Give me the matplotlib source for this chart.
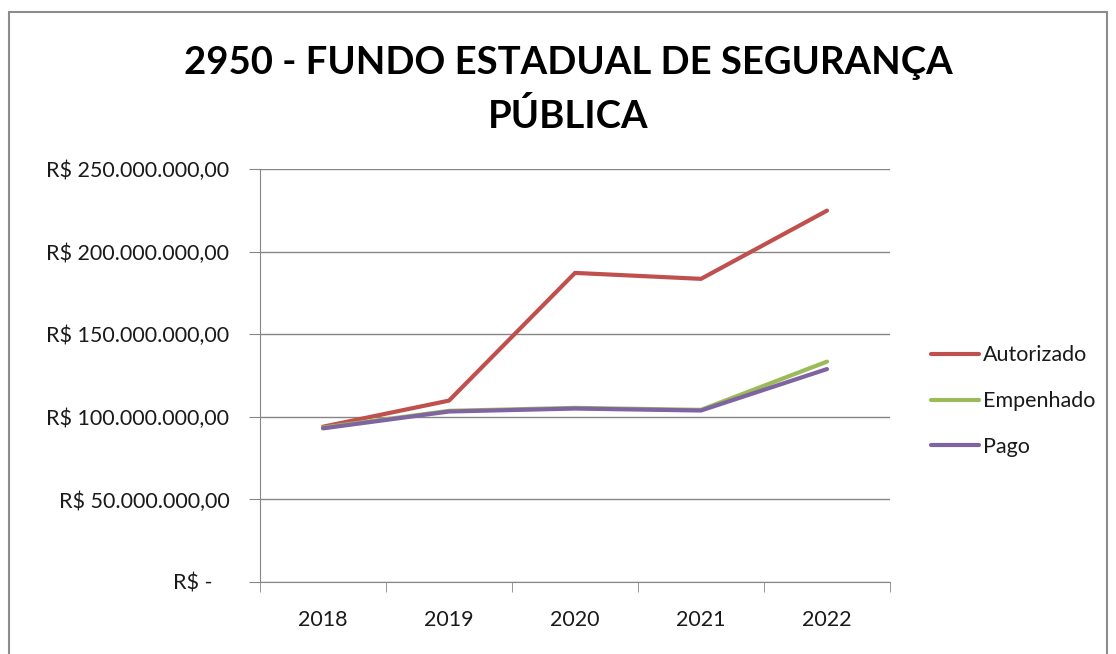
import matplotlib
matplotlib.use("Agg")
import matplotlib.pyplot as plt
from matplotlib.patches import Rectangle
from matplotlib.ticker import FuncFormatter, FixedLocator

# Dados (R$)
anos = ["2018", "2019", "2020", "2021", "2022"]
autorizado = [94.0e6, 109.8e6, 187.1e6, 183.5e6, 224.8e6]
empenhado = [93.5e6, 103.6e6, 105.4e6, 104.2e6, 133.4e6]
pago = [93.0e6, 103.2e6, 105.0e6, 103.8e6, 128.9e6]

titulo = "2950 - FUNDO ESTADUAL DE SEGURANÇA\nPÚBLICA"
fonte = ["Lato", "DejaVu Sans"]
cinza = "#868686"
tam = 15.5

fig = plt.figure(figsize=(11.16, 6.54), dpi=100)
fig.patches.append(Rectangle((9 / 1116, -0.05), 1098 / 1116, 1 - 12 / 654 + 0.05,
                             transform=fig.transFigure, fill=False,
                             edgecolor="#8c8c8c", linewidth=1.5))

ax = fig.add_axes([260 / 1116, 1 - 582 / 654, 630 / 1116, 413 / 654])

x = range(len(anos))
ax.plot(x, autorizado, color="#C0504D", lw=3, label="Autorizado", solid_capstyle="round")
ax.plot(x, empenhado, color="#9BBB59", lw=3, label="Empenhado", solid_capstyle="round")
ax.plot(x, pago, color="#8064A2", lw=3, label="Pago", solid_capstyle="round")

ax.set_xlim(-0.5, len(anos) - 0.5)
ax.set_ylim(0, 250e6)
ax.set_yticks([0, 50e6, 100e6, 150e6, 200e6, 250e6])


def fmt_real(v, pos):
    if v == 0:
        return "R$ -   "
    s = f"{v:,.2f}".replace(",", "X").replace(".", ",").replace("X", ".")
    return "R$ " + s


ax.yaxis.set_major_formatter(FuncFormatter(fmt_real))
ax.grid(axis="y", color=cinza, lw=1)
ax.set_axisbelow(True)

ax.set_xticks(list(x))
ax.set_xticklabels(anos)
ax.xaxis.set_minor_locator(FixedLocator([i - 0.5 for i in range(len(anos) + 1)]))
ax.tick_params(axis="x", which="major", length=0, pad=20, labelsize=tam, labelcolor="#1a1a1a")
ax.tick_params(axis="x", which="minor", length=7, color=cinza, direction="out")
ax.tick_params(axis="y", length=8, color=cinza, pad=14, labelsize=tam, labelcolor="#1a1a1a")

for lab in ax.get_xticklabels() + ax.get_yticklabels():
    lab.set_family(fonte)

for lado in ["top", "right"]:
    ax.spines[lado].set_visible(False)
for lado in ["left", "bottom"]:
    ax.spines[lado].set_color(cinza)

leg = ax.legend(loc="center left", bbox_to_anchor=(1.035, 0.438), frameon=False,
                prop={"family": fonte, "size": tam}, handlelength=2.2,
                handletextpad=0.2, labelspacing=1.2)
for t in leg.get_texts():
    t.set_color("#1a1a1a")

fig.text(568 / 1116, 1 - 90 / 654, titulo, ha="center", va="center",
         fontsize=27.5, fontweight="bold", family=fonte, linespacing=1.62)

fig.savefig("out.png", dpi=100)
